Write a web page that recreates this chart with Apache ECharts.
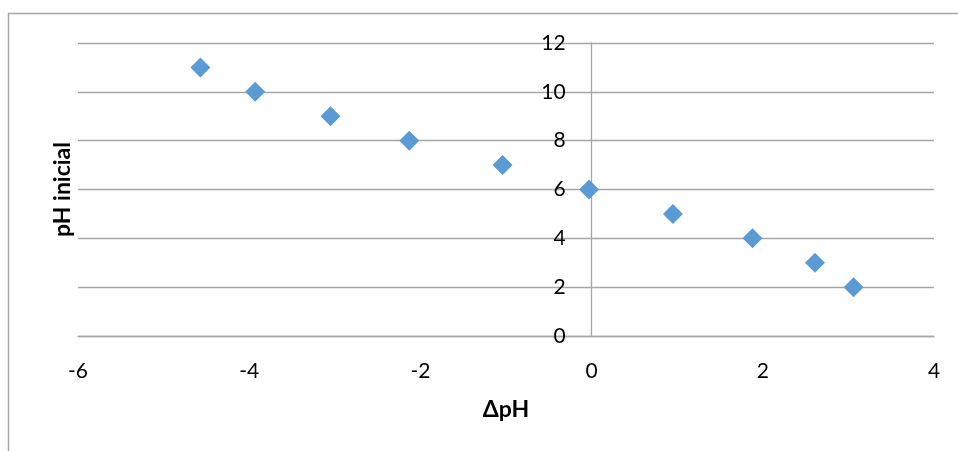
<!DOCTYPE html>
<html>
<head>
<meta charset="utf-8">
<script src="https://cdn.jsdelivr.net/npm/echarts@6/dist/echarts.min.js"></script>
<style>html,body{margin:0;padding:0;background:#fff}#c{width:958px;height:451px}</style>
</head>
<body>
<div id="c"></div>
<script>
const deltaPH = [-4.57, -3.93, -3.05, -2.13, -1.04, -0.03, 0.95, 1.88, 2.61, 3.06];
const pHInicial = [11, 10, 9, 8, 7, 6, 5, 4, 3, 2];
const xAxisTitle = 'ΔpH';
const yAxisTitle = 'pH inicial';

const points = deltaPH.map((x, i) => [x, pHInicial[i]]);
const font = 'Lato, "Liberation Sans", sans-serif';
const chart = echarts.init(document.getElementById('c'));
const gridLeft = 78, gridRight = 24, xMin = -6, xMax = 4;
const plotW = 958 - gridLeft - gridRight;
const zeroOffset = -plotW * (0 - xMin) / (xMax - xMin);
chart.setOption({
  animation: false,
  backgroundColor: '#fff',
  graphic: [{
    type: 'rect', silent: true,
    shape: { x: 8.5, y: 13.5, width: 1200, height: 800 },
    style: { fill: 'none', stroke: '#a6a6a6', lineWidth: 1.5 }
  }],
  grid: { left: gridLeft, right: gridRight, top: 43, bottom: 115, containLabel: false, outerBoundsMode: 'none' },
  xAxis: {
    type: 'value', min: xMin, max: xMax, interval: 2,
    name: xAxisTitle, nameLocation: 'middle', nameGap: 62,
    nameTextStyle: { fontFamily: font, fontSize: 23, fontWeight: 'bold', color: '#000' },
    axisLine: { show: true, onZero: true, lineStyle: { color: '#a6a6a6', width: 1.3 } },
    axisTick: { show: false },
    splitLine: { show: false },
    axisLabel: { fontFamily: font, fontSize: 21, color: '#000', margin: 25 }
  },
  yAxis: {
    type: 'value', min: 0, max: 12, interval: 2,
    offset: zeroOffset,
    name: yAxisTitle, nameLocation: 'middle', nameGap: 518, nameRotate: 90,
    nameTextStyle: { fontFamily: font, fontSize: 23, fontWeight: 'bold', color: '#000' },
    axisLine: { show: true, onZero: false, lineStyle: { color: '#a6a6a6', width: 1.3 } },
    axisTick: { show: false },
    splitLine: { show: true, lineStyle: { color: '#a6a6a6', width: 1.3 } },
    axisLabel: { fontFamily: font, fontSize: 21, color: '#000', margin: 26 }
  },
  series: [{
    type: 'scatter',
    data: points,
    symbol: 'diamond',
    symbolSize: 20,
    itemStyle: { color: '#5b9bd5', opacity: 1 }
  }]
});
</script>
</body>
</html>
